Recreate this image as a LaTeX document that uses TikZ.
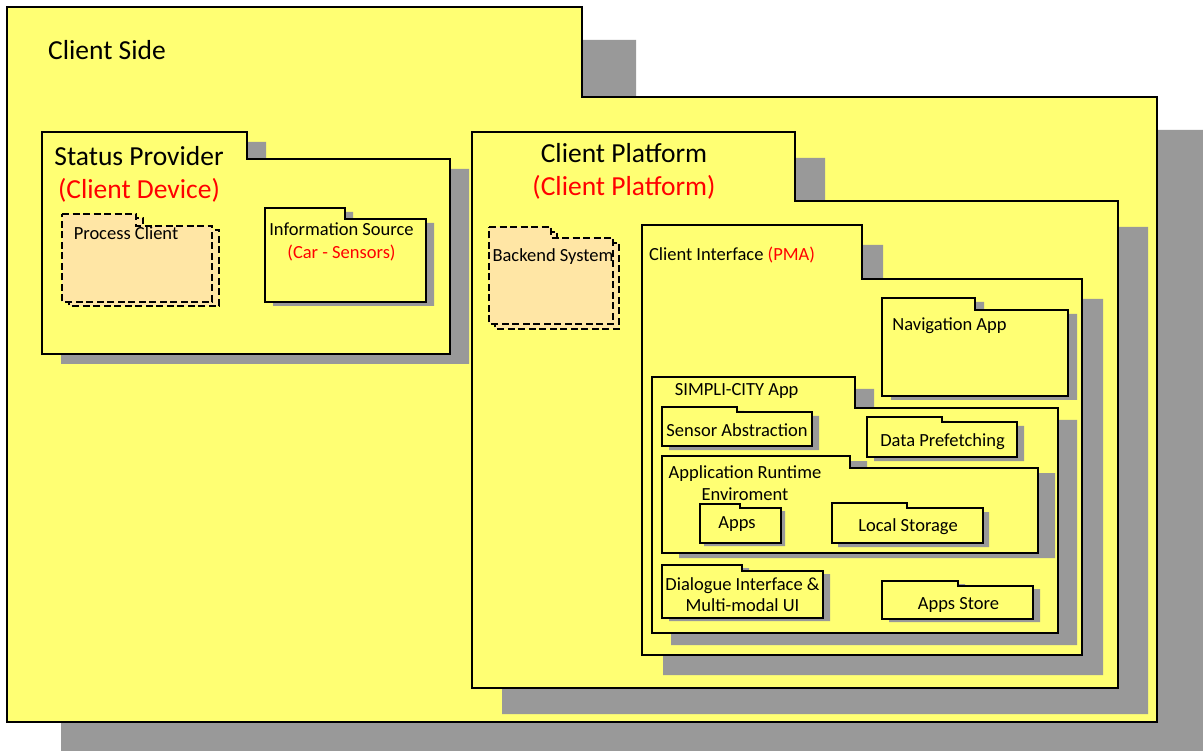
\documentclass[tikz,border=0pt]{standalone}
\usepackage{fontspec}
\setmainfont{Carlito}
\usepackage{tikz}
\usetikzlibrary{positioning}

\definecolor{pkgyellow}{RGB}{255,255,115}
\definecolor{pkgorange}{RGB}{255,230,165}
\definecolor{pkggray}{RGB}{153,153,153}

\begin{document}
\begin{tikzpicture}[x=1pt, y=-1pt,
    pkgbody/.style={fill=pkgyellow, draw=black, line width=1.1pt},
    pkgshadow/.style={fill=pkggray},
    pkgdashed/.style={fill=pkgorange, draw=black, line width=1.1pt, dash pattern=on 7pt off 3.5pt},
    pkgtitle/.style={font=\fontsize{27.5}{33}\selectfont, align=center, inner sep=0pt},
    pkgname/.style={font=\fontsize{18.5}{22.5}\selectfont, align=center, inner sep=0pt, yshift=-1.5pt}]
    \clip (0,0) rectangle (1203,751);

    % folders: tab left/top, tab right, body top, body right/bottom, shadow offset
    \foreach \xa/\ya/\xt/\yt/\xb/\yb/\dx/\dy in {
        7/7/582/97/1157/722/54/33,
        42/132/247/159/450/354/19/10,
        265/208/345/219/426/302/8/4,
        472/132/795/201/1118/688/30/26,
        642/225/862/279/1082/655/21/20,
        882/298/975/310/1068/396/9/4,
        652/377/855/408/1058/633/19/12,
        662/407/737/412/812/446/7/4,
        867/417/942/422/1017/457/7/4,
        662/456/850/468/1038/553/17/5,
        700/504/740/508/781/543/4/3,
        832/503/907/508/983/543/6/4,
        662/565/742/571/823/618/7/3,
        882/581/958/586/1033/619/7/3}{
        \fill[pkgshadow, shift={(\dx,\dy)}] (\xa,\ya) -- (\xt,\ya) -- (\xt,\yt) -- (\xb,\yt) -- (\xb,\yb) -- (\xa,\yb) -- cycle;
        \draw[pkgbody] (\xa,\ya) -- (\xt,\ya) -- (\xt,\yt) -- (\xb,\yt) -- (\xb,\yb) -- (\xa,\yb) -- cycle;
    }

    % dashed folders
    \foreach \xa/\ya/\xt/\yt/\xb/\yb/\dx/\dy in {62/214/136/226/212/302/7/4, 489/227/551/238/613/324/6/5}{
        \draw[pkgdashed, shift={(\dx,\dy)}] (\xa,\ya) -- (\xt,\ya) -- (\xt,\yt) -- (\xb,\yt) -- (\xb,\yb) -- (\xa,\yb) -- cycle;
        \draw[pkgdashed] (\xa,\ya) -- (\xt,\ya) -- (\xt,\yt) -- (\xb,\yt) -- (\xb,\yb) -- (\xa,\yb) -- cycle;
    }

    \node[pkgtitle, anchor=west] (cside) at (48,50) {Client Side};
    \node[pkgtitle] (sprov) at (139,174) {Status Provider\\\textcolor{red}{(Client Device)}};
    \node[pkgtitle] (cplat) at (624,171) {Client Platform\\\textcolor{red}{(Client Platform)}};
    \node[pkgname] (pclient) at (126,232) {Process Client};
    \node[pkgname] (infsrc) at (341.5,240.5) {Information Source\\\textcolor{red}{(Car - Sensors)}};
    \node[pkgname] (backend) at (553,255) {Backend System};
    \node[pkgname] (cintf) at (732,254) {Client Interface \textcolor{red}{(PMA)}};
    \node[pkgname] (navapp) at (949.5,324) {Navigation App};
    \node[pkgname] (simpli) at (736.7,389) {SIMPLI-CITY App};
    \node[pkgname] (sensabs) at (737,429) {Sensor Abstraction};
    \node[pkgname] (prefetch) at (942.5,440) {Data Prefetching};
    \node[pkgname] (runtime) at (745,481.5) {Application Runtime\\Enviroment};
    \node[pkgname] (apps) at (737,523) {Apps};
    \node[pkgname] (lstore) at (908,525.5) {Local Storage};
    \node[pkgname] (dialog) at (742.5,593) {Dialogue Interface \&\\[-2pt]Multi-modal UI};
    \node[pkgname] (astore) at (958.5,603) {Apps Store};
\end{tikzpicture}
\end{document}
